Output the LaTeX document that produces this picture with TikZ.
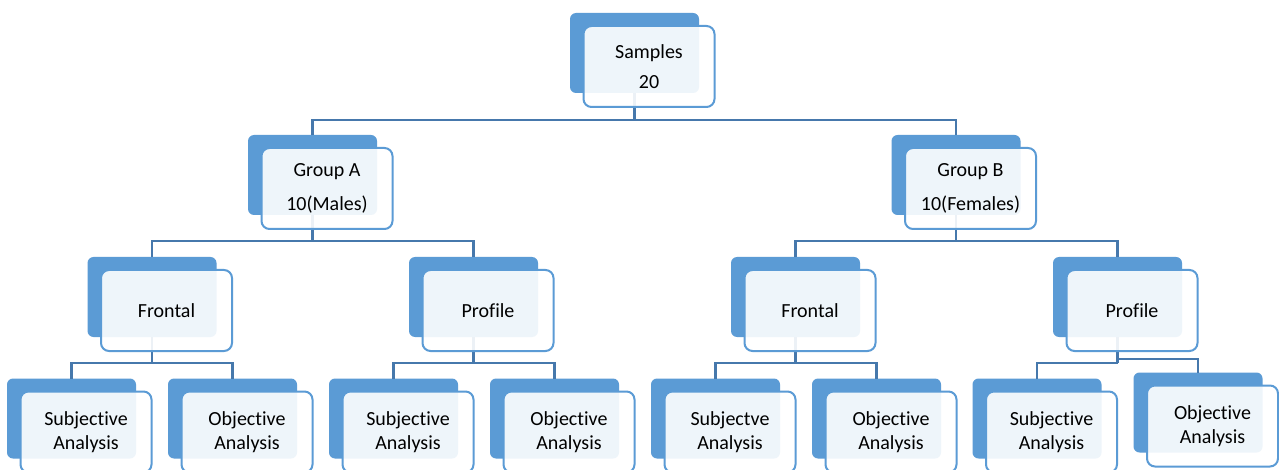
\documentclass[tikz,border=0pt]{standalone}
\usepackage{fontspec}
\setmainfont{Carlito}[Ligatures=NoCommon]
\definecolor{boxblue}{RGB}{91,155,213}
\definecolor{linkblue}{RGB}{70,120,172}
\tikzset{
  backbox/.style={fill=boxblue, rounded corners=6pt, minimum width=129pt,
    minimum height=80pt, inner sep=0pt, outer sep=0pt},
  frontbox/.style={draw=boxblue, line width=2pt, fill=white, fill opacity=0.9,
    text opacity=1, rounded corners=8pt, minimum width=131pt, minimum height=81pt,
    inner sep=0pt, align=center, font=\fontsize{20}{24}\selectfont},
  conn/.style={draw=linkblue, line width=2.2pt, line join=miter},
}
\newcommand\frontof[3][0]{%
  \node[frontbox] (#2f) at ([shift={(14.5,13.5+#1)}]#2.center) {#3};}
\begin{document}
\begin{tikzpicture}[x=1pt,y=-1pt]
\useasboundingbox (0,0) rectangle (1279,470);
\clip (0,0) rectangle (1279,470);
\fill[white] (0,0) rectangle (1279,470);

% back plates of the hierarchy
\node[backbox] (s)   at (634.5,53) {};
\node[backbox] (ga)  at (312.5,175) {};
\node[backbox] (gb)  at (956,175) {};
\node[backbox] (af)  at (152,297) {};
\node[backbox] (ap)  at (473.5,297) {};
\node[backbox] (bf)  at (795.5,297) {};
\node[backbox] (bp)  at (1117.5,297) {};
\node[backbox] (afs) at (71.5,418.5) {};
\node[backbox] (afo) at (232.5,418.5) {};
\node[backbox] (aps) at (393.5,418.5) {};
\node[backbox] (apo) at (554.5,418.5) {};
\node[backbox] (bfs) at (715.5,418.5) {};
\node[backbox] (bfo) at (876.5,418.5) {};
\node[backbox] (bps) at (1037,418.5) {};
\node[backbox] (bpo) at (1198,412.5) {};

% elbow connectors
\draw[conn] (s.south) -- ++(0,27) coordinate (b1);
\draw[conn] (ga.north) |- (b1) -| (gb.north);
\draw[conn] (ga.south) -- ++(0,26) coordinate (b2);
\draw[conn] (af.north) |- (b2) -| (ap.north);
\draw[conn] (gb.south) -- ++(0,26) coordinate (b3);
\draw[conn] (bf.north) |- (b3) -| (bp.north);
\draw[conn] (af.south) -- ++(0,26) coordinate (b4);
\draw[conn] (afs.north) |- (b4) -| (afo.north);
\draw[conn] (ap.south) -- ++(0,26) coordinate (b5);
\draw[conn] (aps.north) |- (b5) -| (apo.north);
\draw[conn] (bf.south) -- ++(0,26) coordinate (b6);
\draw[conn] (bfs.north) |- (b6) -| (bfo.north);
\draw[conn] (bp.south) -- ++(0,26) coordinate (b7);
\draw[conn] (bps.north) |- (b7);
\draw[conn] (bp.south) -- ++(0,22) -| (bpo.north);

% front cards with the labels
\frontof{s}{Samples\\[6pt]20}
\frontof{ga}{Group A\\[10pt]10(Males)}
\frontof{gb}{Group B\\[10pt]10(Females)}
\frontof{af}{Frontal}
\frontof{ap}{Profile}
\frontof{bf}{Frontal}
\frontof{bp}{Profile}
\frontof{afs}{\raisebox{-2pt}{Subjective}\\\raisebox{-2pt}{Analysis}}
\frontof{afo}{\raisebox{-2pt}{Objective}\\\raisebox{-2pt}{Analysis}}
\frontof{aps}{\raisebox{-2pt}{Subjective}\\\raisebox{-2pt}{Analysis}}
\frontof{apo}{\raisebox{-2pt}{Objective}\\\raisebox{-2pt}{Analysis}}
\frontof{bfs}{\raisebox{-2pt}{Subjectve}\\\raisebox{-2pt}{Analysis}}
\frontof{bfo}{\raisebox{-2pt}{Objective}\\\raisebox{-2pt}{Analysis}}
\frontof{bps}{\raisebox{-2pt}{Subjective}\\\raisebox{-2pt}{Analysis}}
\frontof{bpo}{\raisebox{-2pt}{Objective}\\\raisebox{-2pt}{Analysis}}
\end{tikzpicture}
\end{document}
